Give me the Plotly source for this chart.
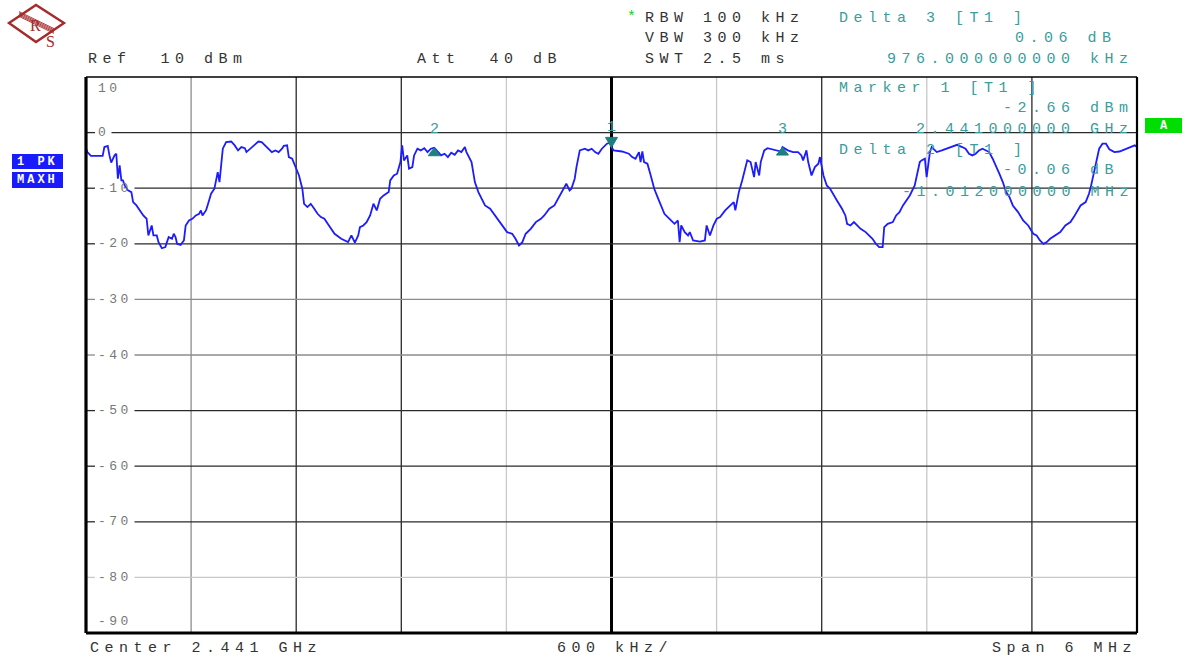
import plotly.graph_objects as go

# ---------------------------------------------------------------------------
# Instrument settings
# ---------------------------------------------------------------------------
CENTER_MHZ = 2441.0
SPAN_MHZ = 6.0
REF_DBM = 10.0
DB_PER_DIV = 10.0
N_DIV = 10

# Trace 1 (max hold), frequency offset from centre in MHz and level in dBm
freq_offset_mhz = [
    -3.000, -2.992, -2.972, -2.905, -2.895, -2.876, -2.866, -2.856, -2.837, -2.827,
    -2.818, -2.808, -2.798, -2.789, -2.779, -2.760, -2.741, -2.731, -2.712, -2.692,
    -2.673, -2.654, -2.644, -2.625, -2.615, -2.596, -2.586, -2.567, -2.547, -2.538,
    -2.528, -2.509, -2.499, -2.489, -2.480, -2.460, -2.441, -2.431, -2.412, -2.393,
    -2.373, -2.354, -2.344, -2.335, -2.315, -2.306, -2.286, -2.267, -2.258, -2.248,
    -2.238, -2.229, -2.219, -2.200, -2.171, -2.151, -2.132, -2.113, -2.093, -2.084,
    -2.064, -2.045, -2.016, -1.997, -1.977, -1.958, -1.939, -1.919, -1.900, -1.881,
    -1.871, -1.852, -1.842, -1.823, -1.804, -1.784, -1.765, -1.755, -1.736, -1.717,
    -1.697, -1.678, -1.659, -1.639, -1.620, -1.601, -1.581, -1.543, -1.504, -1.485,
    -1.465, -1.446, -1.436, -1.417, -1.398, -1.378, -1.359, -1.340, -1.321, -1.301,
    -1.272, -1.263, -1.243, -1.224, -1.205, -1.195, -1.185, -1.166, -1.156, -1.137,
    -1.127, -1.108, -1.089, -1.069, -1.050, -1.031, -1.012, -0.992, -0.973, -0.953,
    -0.934, -0.915, -0.895, -0.876, -0.857, -0.837, -0.828, -0.799, -0.780, -0.760,
    -0.741, -0.722, -0.693, -0.664, -0.644, -0.615, -0.596, -0.567, -0.548, -0.528,
    -0.509, -0.490, -0.461, -0.432, -0.403, -0.384, -0.355, -0.326, -0.306, -0.277,
    -0.258, -0.239, -0.229, -0.210, -0.200, -0.181, -0.152, -0.133, -0.113, -0.094,
    -0.075, -0.055, -0.026, -0.010, 0.000, 0.012, 0.060, 0.099, 0.118, 0.137,
    0.157, 0.166, 0.176, 0.186, 0.205, 0.224, 0.244, 0.263, 0.282, 0.302,
    0.331, 0.360, 0.379, 0.389, 0.398, 0.418, 0.437, 0.447, 0.466, 0.505,
    0.533, 0.543, 0.562, 0.582, 0.601, 0.620, 0.649, 0.678, 0.698, 0.707,
    0.727, 0.746, 0.765, 0.775, 0.794, 0.814, 0.823, 0.843, 0.852, 0.872,
    0.891, 0.920, 0.939, 0.968, 0.976, 1.007, 1.036, 1.065, 1.084, 1.094,
    1.113, 1.123, 1.142, 1.161, 1.181, 1.190, 1.210, 1.229, 1.248, 1.268,
    1.287, 1.316, 1.335, 1.345, 1.364, 1.384, 1.403, 1.422, 1.451, 1.490,
    1.509, 1.528, 1.548, 1.557, 1.577, 1.606, 1.625, 1.644, 1.664, 1.683,
    1.703, 1.731, 1.751, 1.760, 1.770, 1.789, 1.799, 1.809, 1.818, 1.828,
    1.857, 1.886, 1.915, 1.944, 1.973, 2.002, 2.021, 2.041, 2.060, 2.079,
    2.098, 2.118, 2.137, 2.156, 2.176, 2.195, 2.214, 2.234, 2.253, 2.272,
    2.291, 2.321, 2.350, 2.379, 2.408, 2.427, 2.446, 2.466, 2.485, 2.504,
    2.533, 2.562, 2.591, 2.620, 2.639, 2.659, 2.678, 2.707, 2.726, 2.736,
    2.746, 2.765, 2.784, 2.803, 2.823, 2.842, 2.871, 2.900, 2.929, 2.958,
    2.987, 3.000,
]
level_dbm = [
    -2.9, -3.5, -4.2, -4.2, -2.6, -2.4, -4.1, -5.4, -4.1, -3.8,
    -8.3, -5.9, -8.6, -8.6, -9.5, -10.4, -10.7, -12.5, -13.1, -14.0,
    -14.9, -15.5, -18.5, -16.7, -18.5, -18.5, -19.7, -20.8, -20.6, -19.7,
    -18.8, -19.1, -18.2, -18.8, -20.0, -20.2, -19.4, -16.7, -15.8, -15.5,
    -14.9, -14.6, -14.0, -14.9, -14.0, -13.1, -11.0, -10.1, -8.6, -7.1,
    -8.9, -5.9, -2.9, -1.7, -1.6, -2.3, -3.2, -2.6, -2.8, -3.5,
    -2.9, -2.3, -1.6, -1.7, -2.3, -3.0, -3.5, -3.2, -3.5, -2.9,
    -2.4, -2.3, -4.4, -4.7, -6.2, -7.7, -10.1, -12.8, -13.4, -12.8,
    -13.7, -14.6, -15.2, -15.5, -16.4, -17.3, -18.2, -19.1, -19.7, -18.5,
    -19.8, -18.5, -17.0, -16.7, -16.1, -14.9, -12.8, -14.0, -11.9, -11.3,
    -10.7, -8.6, -7.7, -7.4, -5.3, -2.3, -5.0, -4.1, -6.5, -6.2,
    -4.1, -2.9, -3.2, -2.8, -3.5, -2.9, -2.72, -3.4, -4.1, -3.8,
    -4.4, -3.6, -4.0, -3.2, -3.5, -2.6, -3.5, -5.3, -8.9, -10.7,
    -11.9, -13.1, -13.7, -14.9, -15.8, -17.0, -17.9, -18.2, -19.1, -20.3,
    -19.7, -18.2, -17.3, -16.1, -15.5, -14.9, -13.7, -13.1, -11.9, -10.4,
    -9.2, -10.4, -10.1, -8.3, -6.2, -3.2, -2.9, -3.2, -2.9, -3.5,
    -3.8, -2.9, -2.0, -1.8, -2.66, -3.2, -3.4, -3.8, -4.4, -4.7,
    -3.5, -5.3, -3.4, -5.3, -5.6, -7.7, -10.1, -11.6, -13.1, -14.6,
    -15.5, -16.4, -15.8, -19.7, -16.7, -17.9, -18.5, -17.9, -19.4, -19.6,
    -19.4, -16.7, -18.5, -16.7, -15.5, -15.2, -14.0, -13.1, -12.5, -14.0,
    -10.7, -8.6, -6.2, -5.0, -5.3, -8.0, -5.3, -7.7, -5.3, -3.2,
    -2.8, -3.0, -3.2, -3.4, -2.60, -3.2, -3.5, -3.5, -4.1, -5.0,
    -3.2, -5.3, -7.7, -6.2, -5.6, -4.4, -7.7, -9.5, -10.1, -11.3,
    -12.2, -13.7, -14.9, -16.4, -16.7, -16.1, -16.7, -17.3, -17.9, -19.1,
    -20.0, -20.6, -20.6, -17.0, -16.4, -16.1, -14.9, -14.3, -13.1, -12.2,
    -11.3, -9.5, -6.5, -5.3, -5.0, -4.7, -8.0, -5.6, -3.5, -2.6,
    -3.5, -3.2, -2.9, -2.6, -2.2, -2.6, -2.9, -3.8, -4.1, -3.8,
    -3.2, -2.9, -3.2, -3.5, -4.7, -5.9, -7.4, -8.9, -10.7, -11.6,
    -13.1, -14.3, -15.8, -16.7, -18.2, -18.5, -19.4, -20.0, -19.7, -19.1,
    -18.5, -17.9, -16.7, -16.1, -15.2, -14.0, -13.1, -12.5, -11.0, -9.8,
    -8.3, -5.3, -2.9, -2.0, -2.0, -3.0, -3.5, -3.4, -3.0, -2.6,
    -2.3, -2.6,
]

# Markers: marker 1 is absolute, markers 2 and 3 are deltas to marker 1
marker_ids = ["1", "2", "3"]
marker_offset_mhz = [0.0, -1.012, 0.976]
marker_level_dbm = [-2.66, -2.72, -2.60]

# Level axis labels (top to bottom)
level_ticks = [10, 0, -10, -20, -30, -40, -50, -60, -70, -80, -90]
level_tick_labels = ["10", "0", "-10", "-20", "-30", "-40", "-50", "-60", "-70", "-80", "-90"]

# Header / footer readouts
header_left = [("Ref  10 dBm", 86), ("Att  40 dB", 415)]
sweep_lines = ["RBW 100 kHz", "VBW 300 kHz", "SWT 2.5 ms"]
footer_center = "Center 2.441 GHz"
footer_div = "600 kHz/"
footer_span = "Span 6 MHz"

# ---------------------------------------------------------------------------
# Styling
# ---------------------------------------------------------------------------
W, H = 1186, 658
PX0, PX1, PY0, PY1 = 86, 1137, 77, 633
MONO = "Liberation Mono"
FS = 15          # readout font size
LS = 5.5         # readout letter spacing (px)
TEXT = "#333333"
TEAL = "#3a9c9c"
TEAL_DARK = "#1d7f7f"
TRACE = "#1c1cff"
DARK = "#2a2a2a"
MID = "#8c8c8c"
LIGHT = "#c8c8c8"

v_grid_colors = [MID, DARK, DARK, LIGHT, "#000000", LIGHT, DARK, LIGHT, DARK]
h_grid_colors = [DARK, DARK, DARK, MID, MID, DARK, DARK, DARK, LIGHT]


def px(x):
    return (x - PX0) / (PX1 - PX0)


def py(y):
    return (PY1 - y) / (PY1 - PY0)


def spaced(s, ls=LS):
    s = s.replace(" ", "\u00a0")
    return '<span style="letter-spacing:%.1fpx">%s</span>' % (ls, s)


freq_mhz = [CENTER_MHZ + f for f in freq_offset_mhz]
x_lo = CENTER_MHZ - SPAN_MHZ / 2
x_hi = CENTER_MHZ + SPAN_MHZ / 2
y_hi = REF_DBM
y_lo = REF_DBM - N_DIV * DB_PER_DIV

fig = go.Figure()
fig.add_trace(go.Scatter(
    x=freq_mhz, y=level_dbm, mode="lines",
    line=dict(color=TRACE, width=1.8), hoverinfo="skip", showlegend=False,
))

shapes = []
annotations = []

# vertical graticule
for k in range(1, N_DIV):
    xv = x_lo + k * SPAN_MHZ / N_DIV
    color = v_grid_colors[k - 1]
    width = 3 if k == N_DIV // 2 else 1.3
    shapes.append(dict(type="line", xref="x", yref="paper", x0=xv, x1=xv, y0=0, y1=1,
                       line=dict(color=color, width=width), layer="below"))

# horizontal graticule, interrupted where the level label sits
for i, (lv, lab) in enumerate(zip(level_ticks, level_tick_labels)):
    if i == 0 or i == len(level_ticks) - 1:
        continue
    color = h_grid_colors[i - 1]
    gap_end = 97 + len(lab) * 11.5 + 3
    shapes.append(dict(type="line", xref="paper", yref="y", x0=0, x1=px(95), y0=lv, y1=lv,
                       line=dict(color=color, width=1.3), layer="below"))
    shapes.append(dict(type="line", xref="paper", yref="y", x0=px(gap_end), x1=1, y0=lv, y1=lv,
                       line=dict(color=color, width=1.3), layer="below"))

# level labels
for i, (lv, lab) in enumerate(zip(level_ticks, level_tick_labels)):
    ann = dict(x=px(96), xref="paper", y=lv, yref="y", xanchor="left", yanchor="middle",
               text=spaced(lab, 3.5), showarrow=False,
               font=dict(family=MONO, size=13, color="#777777"))
    if i == 0:
        ann["yshift"] = -11
    elif i == len(level_ticks) - 1:
        ann["yshift"] = 12
    annotations.append(ann)

# frame
shapes += [
    dict(type="line", xref="paper", yref="paper", x0=0, x1=1, y0=1, y1=1,
         line=dict(color="#000", width=1.5)),
    dict(type="line", xref="paper", yref="paper", x0=1, x1=1, y0=0, y1=1,
         line=dict(color="#000", width=2.2)),
    dict(type="line", xref="paper", yref="paper", x0=0, x1=0, y0=0, y1=1,
         line=dict(color="#000", width=3.2)),
    dict(type="line", xref="paper", yref="paper", x0=0, x1=1, y0=0, y1=0,
         line=dict(color="#000", width=3.2)),
]

# marker symbols anchored to their data points
for mid, mo, ml in zip(marker_ids, marker_offset_mhz, marker_level_dbm):
    xm = CENTER_MHZ + mo
    if mid == "1":
        path = "M -6 10 L 6 10 L 0 0 Z"
        lab_shift = 20
    else:
        path = "M -6 -8 L 6 -8 L 0 0 Z"
        lab_shift = 18
    shapes.append(dict(type="path", xref="x", yref="y", xsizemode="pixel", ysizemode="pixel",
                       xanchor=xm, yanchor=ml, path=path,
                       fillcolor=TEAL_DARK, line=dict(color=TEAL_DARK, width=1)))
    annotations.append(dict(x=xm, y=ml, xref="x", yref="y", text=mid, showarrow=False,
                            yshift=lab_shift, xanchor="center", yanchor="middle",
                            font=dict(family=MONO, size=15, color=TEAL)))

# header readouts
for txt, xl in header_left:
    annotations.append(dict(x=px(xl), y=py(60), xref="paper", yref="paper", xanchor="left",
                            yanchor="middle", text=spaced(txt), showarrow=False,
                            font=dict(family=MONO, size=FS, color=TEXT)))
for j, txt in enumerate(sweep_lines):
    annotations.append(dict(x=px(643), y=py(18 + 21 * j), xref="paper", yref="paper",
                            xanchor="left", yanchor="middle", text=spaced(txt), showarrow=False,
                            font=dict(family=MONO, size=FS, color=TEXT)))
annotations.append(dict(x=px(631), y=py(17), xref="paper", yref="paper", xanchor="center",
                        yanchor="middle", text="*", showarrow=False,
                        font=dict(family=MONO, size=15, color="#11cc11")))

# marker readouts (teal)
teal_left = [("Delta 3 [T1 ]", 18), ("Marker 1 [T1 ]", 89), ("Delta 2 [T1 ]", 151)]
teal_right = [("0.06 dB", 1113, 39), ("976.000000000 kHz", 1130, 60),
              ("-2.66 dBm", 1130, 109), ("2.441000000 GHz", 1130, 130),
              ("-0.06 dB", 1115, 171), ("-1.012000000 MHz", 1130, 192)]
for txt, yc in teal_left:
    annotations.append(dict(x=px(837), y=py(yc), xref="paper", yref="paper", xanchor="left",
                            yanchor="middle", text=spaced(txt), showarrow=False,
                            font=dict(family=MONO, size=FS, color=TEAL)))
for txt, xr, yc in teal_right:
    annotations.append(dict(x=px(xr + LS), y=py(yc), xref="paper", yref="paper", xanchor="right",
                            yanchor="middle", text=spaced(txt), showarrow=False,
                            font=dict(family=MONO, size=FS, color=TEAL)))

# footer
annotations.append(dict(x=px(88), y=py(648), xref="paper", yref="paper", xanchor="left",
                        yanchor="middle", text=spaced(footer_center), showarrow=False,
                        font=dict(family=MONO, size=FS, color=TEXT)))
annotations.append(dict(x=px(555), y=py(648), xref="paper", yref="paper", xanchor="left",
                        yanchor="middle", text=spaced(footer_div), showarrow=False,
                        font=dict(family=MONO, size=FS, color=TEXT)))
annotations.append(dict(x=px(1133 + LS), y=py(648), xref="paper", yref="paper", xanchor="right",
                        yanchor="middle", text=spaced(footer_span), showarrow=False,
                        font=dict(family=MONO, size=FS, color=TEXT)))

# trace status badges on the left
for txt, y0, y1 in [("1 PK", 154, 169), ("MAXH", 172, 188)]:
    shapes.append(dict(type="rect", xref="paper", yref="paper", x0=px(12), x1=px(63),
                       y0=py(y1), y1=py(y0), fillcolor="#1a1aff", line=dict(width=0)))
    annotations.append(dict(x=px(37.5), y=py((y0 + y1) / 2), xref="paper", yref="paper",
                            xanchor="center", yanchor="middle", text=spaced("<b>%s</b>" % txt, 3.0),
                            showarrow=False, font=dict(family=MONO, size=12, color="white")))

# screen "A" badge on the right
shapes.append(dict(type="rect", xref="paper", yref="paper", x0=px(1145), x1=px(1182),
                   y0=py(133), y1=py(118), fillcolor="#00dd00", line=dict(width=0)))
annotations.append(dict(x=px(1163.5), y=py(125.5), xref="paper", yref="paper", xanchor="center",
                        yanchor="middle", text="<b>A</b>", showarrow=False,
                        font=dict(family=MONO, size=12, color="white")))

# Rohde & Schwarz logo
LOGO = "#a52a2a"


def lp(x, y):
    return "%.5f %.5f" % (px(x), py(y))


diamond = "M %s L %s L %s L %s Z" % (lp(9, 23), lp(36, 5), lp(64, 23), lp(36, 42))
shapes.append(dict(type="path", xref="paper", yref="paper", path=diamond,
                   line=dict(color=LOGO, width=2.4), fillcolor="rgba(0,0,0,0)"))
for d in (-2.4, -1.2, 0, 1.2, 2.4):
    shapes.append(dict(type="line", xref="paper", yref="paper",
                       x0=px(19), y0=py(14 + d), x1=px(54), y1=py(31 + d),
                       line=dict(color=LOGO, width=0.9)))
annotations.append(dict(x=px(28), y=py(15), xref="paper", yref="paper", text="R", showarrow=False,
                        font=dict(family="Liberation Serif", size=16, color=LOGO)))
annotations.append(dict(x=px(44), y=py(31), xref="paper", yref="paper", text="S", showarrow=False,
                        font=dict(family="Liberation Serif", size=16, color=LOGO)))

fig.update_layout(
    width=W, height=H,
    margin=dict(l=PX0, r=W - PX1, t=PY0, b=H - PY1, pad=0),
    paper_bgcolor="white", plot_bgcolor="white",
    xaxis=dict(range=[x_lo, x_hi], showgrid=False, zeroline=False, showticklabels=False,
               ticks="", showline=False, fixedrange=True),
    yaxis=dict(range=[y_lo, y_hi], showgrid=False, zeroline=False, showticklabels=False,
               ticks="", showline=False, fixedrange=True),
    shapes=shapes,
    annotations=annotations,
    showlegend=False,
)

fig.write_html("out.html", config={"displayModeBar": False})
